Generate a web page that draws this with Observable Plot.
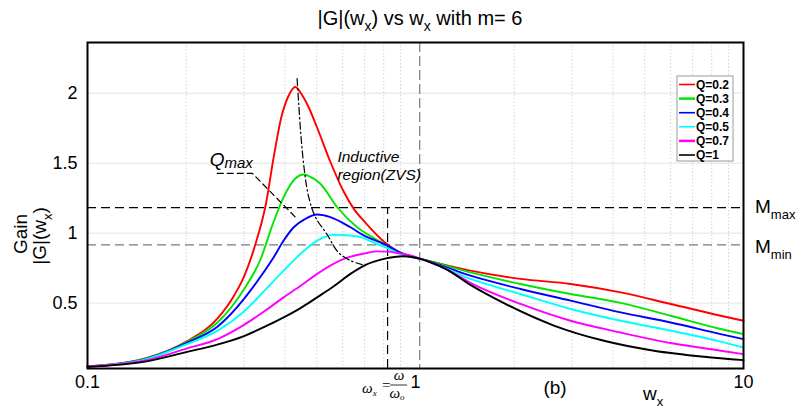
<!DOCTYPE html>
<html><head><meta charset="utf-8">
<script src="https://cdn.jsdelivr.net/npm/d3@7"></script>
<script src="https://cdn.jsdelivr.net/npm/@observablehq/plot@0.6"></script>
<style>body{margin:0;background:#fff} svg{display:block}</style>
</head><body><div id="chart"></div>
<script>
// ---- data ----
const seriesNames  = ["Q=0.2","Q=0.3","Q=0.4","Q=0.5","Q=0.7","Q=1"];
const seriesColors = ["#ff0000","#00e600","#0000ff","#00ffff","#ff00ff","#000000"];

const q02 = [[0.1,0.047],[0.15,0.105],[0.2,0.225],[0.25,0.395],[0.28,0.555],[0.3,0.69],[0.325,0.92],[0.35,1.21],[0.37,1.55],[0.39,1.83],[0.41,1.98],[0.43,2.044],[0.45,1.99],[0.47,1.91],[0.5,1.76],[0.55,1.51],[0.6,1.31],[0.65,1.17],[0.7,1.08],[0.8,0.94],[0.9,0.86],[1.0,0.825],[1.036,0.816],[1.47,0.732],[2.09,0.673],[2.97,0.637],[4.22,0.577],[6.0,0.494],[8.52,0.41],[10,0.374]];
const q03 = [[0.1,0.047],[0.15,0.103],[0.2,0.22],[0.25,0.365],[0.3,0.60],[0.3366,0.81],[0.3654,1.05],[0.3963,1.257],[0.43,1.39],[0.456,1.419],[0.48,1.40],[0.5128,1.353],[0.5771,1.185],[0.664,1.042],[0.74,0.97],[0.8197,0.911],[0.9,0.855],[1.0,0.824],[1.036,0.816],[1.47,0.72],[2.09,0.637],[2.97,0.565],[4.22,0.502],[6.0,0.41],[8.52,0.315],[10,0.279]];
const q04 = [[0.1,0.047],[0.15,0.10],[0.2,0.215],[0.25,0.335],[0.3,0.53],[0.3137,0.589],[0.3695,0.827],[0.3963,0.947],[0.4253,1.042],[0.46,1.10],[0.5012,1.133],[0.55,1.115],[0.6333,1.042],[0.7,0.98],[0.8004,0.923],[0.9,0.86],[1.0,0.824],[1.036,0.816],[1.47,0.696],[2.09,0.601],[2.97,0.518],[4.22,0.434],[6.0,0.362],[8.52,0.279],[10,0.243]];
const q05 = [[0.1,0.047],[0.15,0.098],[0.2,0.205],[0.25,0.305],[0.3,0.44],[0.35,0.60],[0.3963,0.732],[0.45,0.86],[0.5012,0.947],[0.5632,0.988],[0.62,0.985],[0.6796,0.971],[0.75,0.93],[0.8289,0.888],[0.9,0.85],[1.0,0.823],[1.036,0.816],[1.47,0.673],[2.09,0.565],[2.97,0.458],[4.22,0.374],[6.0,0.303],[8.52,0.225],[10,0.183]];
const q07 = [[0.1,0.047],[0.15,0.09],[0.2,0.175],[0.25,0.245],[0.3,0.345],[0.35,0.45],[0.3963,0.541],[0.45,0.63],[0.5012,0.709],[0.6043,0.816],[0.7,0.855],[0.764,0.87],[0.83,0.868],[0.9,0.855],[0.9656,0.84],[1.036,0.816],[1.235,0.745],[1.47,0.645],[2.09,0.494],[2.97,0.374],[4.22,0.29],[6.0,0.215],[8.52,0.16],[10,0.136]];
const q10 = [[0.1,0.045],[0.15,0.082],[0.2,0.15],[0.25,0.205],[0.3,0.265],[0.35,0.335],[0.3963,0.398],[0.45,0.47],[0.5012,0.541],[0.5632,0.62],[0.6333,0.709],[0.7,0.77],[0.8004,0.816],[0.921,0.835],[1.036,0.816],[1.111,0.792],[1.235,0.745],[1.47,0.63],[1.86,0.50],[2.642,0.34],[3.755,0.231],[5.337,0.16],[7.583,0.117],[10,0.093]];
const seriesData = [q02, q03, q04, q05, q07, q10];

// locus of the peaks (dash-dot) and the Q_max leader (dashed)
const peakLocus = [[0.4355,2.104],[0.4405,1.926],[0.4478,1.686],[0.4584,1.448],[0.4726,1.257],[0.4956,1.114],[0.5378,0.99],[0.5814,0.863],[0.6333,0.804],[0.6878,0.775]];
const qmaxLeader = [[0.2487,1.427],[0.3181,1.427],[0.4355,1.102]];

const mMax = 1.183, mMin = 0.916;   // horizontal dashed levels
const wxLine = 0.822;               // black dashed vertical
const wxRes = 1.03;                 // grey dashed vertical (w_x = 1)

const xTicks = [0.1, 1, 10];
const xMinor = [0.2,0.3,0.4,0.5,0.6,0.7,0.8,0.9,2,3,4,5,6,7,8,9];
const yTicks = [0.5, 1, 1.5, 2];
const yDomain = [0.033, 2.362];

const FONT = "'Liberation Sans', Arial, sans-serif";

const chart = Plot.plot({
  width: 796, height: 408,
  marginLeft: 87, marginRight: 53, marginTop: 42, marginBottom: 40,
  style: {fontFamily: FONT, background: "#fff", color: "#000"},
  x: {type: "log", domain: [0.1, 10]},
  y: {domain: yDomain},
  marks: [
    Plot.gridY(yTicks, {stroke: "#e2e2e2", strokeOpacity: 1}),
    Plot.gridX(xMinor, {stroke: "#d4d4d4", strokeOpacity: 1, strokeDasharray: "1.5,2"}),
    Plot.axisY(yTicks, {tickSize: 0, tickPadding: 10, fontSize: 18, label: null, tickFormat: d => String(d)}),
    Plot.axisX(xTicks, {tickSize: 0, tickPadding: 7, fontSize: 18, label: null, tickFormat: d => String(d)}),
    Plot.ruleY([mMax], {stroke: "#000", strokeDasharray: "9,5", strokeWidth: 1.2}),
    Plot.ruleY([mMin], {stroke: "#7a7a7a", strokeDasharray: "9,5", strokeWidth: 1.2}),
    Plot.ruleX([wxLine], {y1: yDomain[0], y2: mMax, stroke: "#000", strokeDasharray: "9,5", strokeWidth: 1.2}),
    Plot.ruleX([wxRes], {stroke: "#7a7a7a", strokeDasharray: "10,4", strokeWidth: 1.2}),
    ...seriesData.map((s, i) => Plot.line(s, {x: d => d[0], y: d => d[1], stroke: seriesColors[i], strokeWidth: 1.9, curve: "monotone-x"})),
    Plot.line(peakLocus, {x: d => d[0], y: d => d[1], stroke: "#000", strokeWidth: 1.2, strokeDasharray: "7,3,1.5,3", curve: "catmull-rom"}),
    Plot.line(qmaxLeader, {x: d => d[0], y: d => d[1], stroke: "#000", strokeWidth: 1.2, strokeDasharray: "6,4"}),
    Plot.text([[0.578, 1.541, "Inductive"], [0.578, 1.413, "region(ZVS)"]], {x: d => d[0], y: d => d[1], text: d => d[2], textAnchor: "start", fontSize: 15.5, fontStyle: "italic"}),
    Plot.frame({stroke: "#000", strokeWidth: 2})
  ]
});
document.getElementById("chart").appendChild(chart);

// ---- extra rich text (subscripts) and legend, positioned through the plot's scales ----
const svg = d3.select(chart);
const sx = chart.scale("x"), sy = chart.scale("y");

function rich(x, y, parts, size, subSize, opts = {}) {
  const t = svg.append("text").attr("x", x).attr("y", y)
    .attr("font-family", opts.family || FONT).attr("font-size", size)
    .attr("text-anchor", opts.anchor || "start").attr("fill", "#000");
  if (opts.italic) t.attr("font-style", "italic");
  if (opts.transform) t.attr("transform", opts.transform);
  const drop = opts.drop != null ? opts.drop : Math.round(size * 0.3);
  let shifted = 0;
  for (const [s, sub] of parts) {
    const ts = t.append("tspan").text(s);
    if (sub) { ts.attr("font-size", subSize).attr("dy", drop - shifted); shifted = drop; }
    else { if (shifted) ts.attr("dy", -shifted); shifted = 0; }
  }
  return t;
}

// title
rich(420, 25, [["|G|(w"], ["x", 1], [") vs w"], ["x", 1], [" with m= 6"]], 20, 14, {anchor: "middle"});
// y label (rotated, two lines)
rich(0, 0, [["Gain"]], 19, 13, {anchor: "middle", transform: "translate(27,234) rotate(-90)"});
rich(0, 0, [["|G|(w"], ["x", 1], [")"]], 19, 13, {anchor: "middle", transform: "translate(46,236) rotate(-90)"});
// x label and panel tag
rich(555, 394, [["(b)"]], 19, 13, {anchor: "middle"});
rich(643, 400, [["w"], ["x", 1]], 19, 13);
// M_max / M_min
rich(755, sy.apply(mMax) + 6, [["M"], ["max", 1]], 19, 13);
rich(755, sy.apply(mMin) + 9, [["M"], ["min", 1]], 19, 13);
// Q_max
rich(sx.apply(0.2367), sy.apply(1.52) + 6, [["Q"], ["max", 1]], 19, 15, {italic: true, drop: 2});
// omega_x = omega / omega_o
const SERIF = "'Liberation Serif', 'Times New Roman', serif";
const cx = sx.apply(wxLine);
rich(cx - 25, 393, [["ω"], ["x", 1]], 15, 9, {italic: true, family: SERIF, drop: 3});
rich(cx - 5, 390, [["="]], 15, 9, {family: SERIF});
rich(cx + 12, 380, [["ω"]], 15, 9, {italic: true, family: SERIF, anchor: "middle"});
svg.append("line").attr("x1", cx + 3).attr("x2", cx + 20).attr("y1", 385).attr("y2", 385).attr("stroke", "#000").attr("stroke-width", 0.8);
rich(cx + 10, 398, [["ω"], ["o", 1]], 15, 9, {italic: true, family: SERIF, anchor: "middle", drop: 2});

// legend
const lg = svg.append("g").attr("transform", "translate(677,76)");
lg.append("rect").attr("width", 56).attr("height", 85).attr("fill", "#fff").attr("stroke", "#9a9a9a").attr("stroke-width", 1);
seriesNames.forEach((name, i) => {
  const y = 8.5 + i * 14.1;
  lg.append("line").attr("x1", 2).attr("x2", 18).attr("y1", y).attr("y2", y).attr("stroke", seriesColors[i]).attr("stroke-width", i === 1 || i === 4 ? 2.5 : 1.6);
  lg.append("text").attr("x", 19).attr("y", y + 4.3).attr("text-anchor", "start").attr("font-family", FONT).attr("font-size", 12).attr("font-weight", "bold").text(name);
});
</script>
</body></html>
